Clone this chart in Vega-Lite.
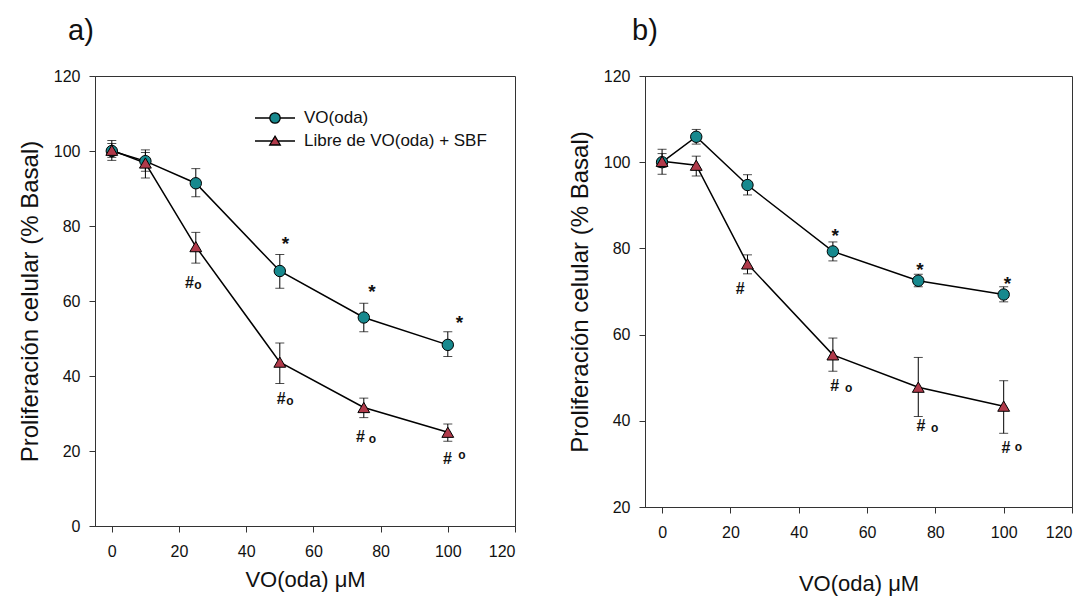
{
  "$schema": "https://vega.github.io/schema/vega-lite/v6.json",
  "padding": {"left": 17, "top": 16, "right": 5, "bottom": 2},
  "spacing": 51,
  "background": "white",
  "config": {
    "font": "Liberation Sans",
    "view": {"stroke": "#333", "strokeWidth": 1},
    "axis": {"domainColor": "#333", "tickColor": "#333", "labelColor": "#111", "titleColor": "#111", "labelFontSize": 16, "titleFontSize": 24, "titleFontWeight": "normal", "grid": false, "tickSize": 6, "labelPadding": 9, "labelFont": "Liberation Sans", "titleFont": "Liberation Sans"},
    "axisX": {"labelPadding": 11, "titleFontSize": 22},
    "legend": {"labelFontSize": 17, "labelLimit": 500, "labelColor": "#111", "labelFont": "Liberation Sans", "symbolStrokeColor": "black", "symbolStrokeWidth": 1.3, "symbolSize": 256, "labelOffset": 20, "padding": 0, "title": null, "orient": "none"},
    "title": {"fontSize": 29, "fontWeight": "normal", "anchor": "start", "frame": "group", "color": "#111", "font": "Liberation Sans"}
  },
  "datasets": {
    "a": [
      {"x": 0, "series": "VO(oda)", "y": 100.0, "lo": 97.5, "hi": 102.8},
      {"x": 10, "series": "VO(oda)", "y": 97.3, "lo": 94.6, "hi": 100.3},
      {"x": 25, "series": "VO(oda)", "y": 91.4, "lo": 87.8, "hi": 95.3},
      {"x": 50, "series": "VO(oda)", "y": 68.0, "lo": 63.4, "hi": 72.4},
      {"x": 75, "series": "VO(oda)", "y": 55.6, "lo": 51.8, "hi": 59.4},
      {"x": 100, "series": "VO(oda)", "y": 48.3, "lo": 45.2, "hi": 51.8},
      {"x": 0, "series": "Libre de VO(oda) + SBF", "y": 100.2, "lo": 98.3, "hi": 102.0},
      {"x": 10, "series": "Libre de VO(oda) + SBF", "y": 96.8, "lo": 92.8, "hi": 99.6},
      {"x": 25, "series": "Libre de VO(oda) + SBF", "y": 74.5, "lo": 70.1, "hi": 78.3},
      {"x": 50, "series": "Libre de VO(oda) + SBF", "y": 43.7, "lo": 38.0, "hi": 48.8},
      {"x": 75, "series": "Libre de VO(oda) + SBF", "y": 31.6, "lo": 28.9, "hi": 34.1},
      {"x": 100, "series": "Libre de VO(oda) + SBF", "y": 25.0, "lo": 22.6, "hi": 27.2}
    ],
    "a_ann": [
      {"x": 51.7, "y": 76.5, "t": "*"},
      {"x": 77.4, "y": 63.7, "t": "*"},
      {"x": 103.5, "y": 55.6, "t": "*"},
      {"x": 23.1, "y": 64.8, "t": "#"},
      {"x": 25.6, "y": 64.3, "t": "o"},
      {"x": 50.4, "y": 33.9, "t": "#"},
      {"x": 53.0, "y": 33.4, "t": "o"},
      {"x": 74.0, "y": 23.8, "t": "#"},
      {"x": 77.6, "y": 23.3, "t": "o"},
      {"x": 99.9, "y": 17.8, "t": "#"},
      {"x": 104.2, "y": 18.9, "t": "o"}
    ],
    "b": [
      {"x": 0, "series": "VO(oda)", "y": 100.0, "lo": 97.2, "hi": 103.0},
      {"x": 10, "series": "VO(oda)", "y": 105.9, "lo": 104.2, "hi": 107.6},
      {"x": 25, "series": "VO(oda)", "y": 94.7, "lo": 92.4, "hi": 97.1},
      {"x": 50, "series": "VO(oda)", "y": 79.3, "lo": 77.1, "hi": 81.5},
      {"x": 75, "series": "VO(oda)", "y": 72.5, "lo": 71.1, "hi": 74.0},
      {"x": 100, "series": "VO(oda)", "y": 69.3, "lo": 67.6, "hi": 71.1},
      {"x": 0, "series": "Libre de VO(oda) + SBF", "y": 100.2, "lo": 98.8, "hi": 102.0},
      {"x": 10, "series": "Libre de VO(oda) + SBF", "y": 99.3, "lo": 96.8, "hi": 101.4},
      {"x": 25, "series": "Libre de VO(oda) + SBF", "y": 76.4, "lo": 74.1, "hi": 78.5},
      {"x": 50, "series": "Libre de VO(oda) + SBF", "y": 55.3, "lo": 51.5, "hi": 59.2},
      {"x": 75, "series": "Libre de VO(oda) + SBF", "y": 47.8, "lo": 41.0, "hi": 54.7},
      {"x": 100, "series": "Libre de VO(oda) + SBF", "y": 43.4, "lo": 37.1, "hi": 49.3}
    ],
    "b_ann": [
      {"x": 50.7, "y": 84.1, "t": "*"},
      {"x": 75.5, "y": 76.2, "t": "*"},
      {"x": 101.1, "y": 72.9, "t": "*"},
      {"x": 22.9, "y": 70.6, "t": "#"},
      {"x": 50.5, "y": 48.0, "t": "#"},
      {"x": 54.6, "y": 47.6, "t": "o"},
      {"x": 75.8, "y": 38.7, "t": "#"},
      {"x": 79.8, "y": 38.3, "t": "o"},
      {"x": 100.7, "y": 33.7, "t": "#"},
      {"x": 104.3, "y": 34.0, "t": "o"}
    ]
  },
  "hconcat": [
    {
      "width": 420,
      "height": 450,
      "title": {"text": "a)", "dx": -27, "offset": 22},
      "encoding": {
        "x": {"field": "x", "type": "quantitative", "scale": {"domain": [-5, 120], "nice": false, "zero": false}, "axis": {"values": [0, 20, 40, 60, 80, 100, 120], "title": "VO(oda)  μM", "titlePadding": 10}},
        "y": {"field": "y", "type": "quantitative", "scale": {"domain": [0, 120], "nice": false}, "axis": {"values": [0, 20, 40, 60, 80, 100, 120], "title": "Proliferación celular (% Basal)", "titlePadding": 11}}
      },
      "layer": [
        {"data": {"name": "a"}, "mark": {"type": "line", "color": "black", "strokeWidth": 1.5}, "encoding": {"detail": {"field": "series"}}},
        {"data": {"name": "a"}, "mark": {"type": "rule", "color": "black", "strokeWidth": 1}, "encoding": {"y": {"field": "lo", "type": "quantitative"}, "y2": {"field": "hi"}}},
        {"data": {"name": "a"}, "mark": {"type": "tick", "orient": "horizontal", "color": "black", "size": 9, "thickness": 1}, "encoding": {"y": {"field": "lo", "type": "quantitative"}}},
        {"data": {"name": "a"}, "mark": {"type": "tick", "orient": "horizontal", "color": "black", "size": 9, "thickness": 1}, "encoding": {"y": {"field": "hi", "type": "quantitative"}}},
        {"data": {"name": "a"}, "transform": [{"filter": "datum.series === 'VO(oda)'"}], "mark": {"type": "point", "shape": "circle", "filled": true, "fill": "#17898e", "stroke": "black", "strokeWidth": 1, "size": 130, "opacity": 1}},
        {"data": {"name": "a"}, "transform": [{"filter": "datum.series !== 'VO(oda)'"}], "mark": {"type": "point", "shape": "triangle-up", "filled": true, "fill": "#b03a4a", "stroke": "black", "strokeWidth": 1, "size": 140, "opacity": 1}},
        {"data": {"name": "a"}, "transform": [{"filter": "false"}], "mark": {"type": "point", "filled": true, "opacity": 1},
          "encoding": {
            "color": {"field": "series", "type": "nominal", "scale": {"domain": ["VO(oda)", "Libre de VO(oda) + SBF"], "range": ["#17898e", "#b03a4a"]}, "legend": {"legendX": 171, "legendY": 33, "rowPadding": 6}},
            "shape": {"field": "series", "type": "nominal", "scale": {"domain": ["VO(oda)", "Libre de VO(oda) + SBF"], "range": ["M-2.5,0H-0.65M0.65,0H2.5M-0.65,0A0.65,0.65,0,1,1,0.65,0A0.65,0.65,0,1,1,-0.65,0Z", "M-2.5,0H-0.36M0.36,0H2.5M0,-0.6L0.66,0.5L-0.66,0.5Z"]}, "legend": {"legendX": 171, "legendY": 33, "rowPadding": 6}}
          }},
        {"data": {"name": "a_ann"}, "transform": [{"filter": "datum.t === '*'"}], "mark": {"type": "text", "fontSize": 19, "fontWeight": "bold", "color": "#111", "dy": 5, "baseline": "middle"}, "encoding": {"text": {"field": "t"}}},
        {"data": {"name": "a_ann"}, "transform": [{"filter": "datum.t === '#'"}], "mark": {"type": "text", "fontSize": 16, "fontWeight": "bold", "color": "#111", "baseline": "middle"}, "encoding": {"text": {"field": "t"}}},
        {"data": {"name": "a_ann"}, "transform": [{"filter": "datum.t === 'o'"}], "mark": {"type": "text", "fontSize": 12, "fontWeight": "bold", "color": "#111", "baseline": "middle"}, "encoding": {"text": {"field": "t"}}}
      ]
    },
    {
      "width": 427,
      "height": 431,
      "title": {"text": "b)", "dx": -13, "offset": 22},
      "encoding": {
        "x": {"field": "x", "type": "quantitative", "scale": {"domain": [-5, 120], "nice": false, "zero": false}, "axis": {"values": [0, 20, 40, 60, 80, 100, 120], "title": "VO(oda)  μM", "titlePadding": 33}},
        "y": {"field": "y", "type": "quantitative", "scale": {"domain": [20, 120], "nice": false, "zero": false}, "axis": {"values": [20, 40, 60, 80, 100, 120], "title": "Proliferación celular (% Basal)", "titlePadding": 11}}
      },
      "layer": [
        {"data": {"name": "b"}, "mark": {"type": "line", "color": "black", "strokeWidth": 1.5}, "encoding": {"detail": {"field": "series"}}},
        {"data": {"name": "b"}, "mark": {"type": "rule", "color": "black", "strokeWidth": 1}, "encoding": {"y": {"field": "lo", "type": "quantitative"}, "y2": {"field": "hi"}}},
        {"data": {"name": "b"}, "mark": {"type": "tick", "orient": "horizontal", "color": "black", "size": 9, "thickness": 1}, "encoding": {"y": {"field": "lo", "type": "quantitative"}}},
        {"data": {"name": "b"}, "mark": {"type": "tick", "orient": "horizontal", "color": "black", "size": 9, "thickness": 1}, "encoding": {"y": {"field": "hi", "type": "quantitative"}}},
        {"data": {"name": "b"}, "transform": [{"filter": "datum.series === 'VO(oda)'"}], "mark": {"type": "point", "shape": "circle", "filled": true, "fill": "#17898e", "stroke": "black", "strokeWidth": 1, "size": 130, "opacity": 1}},
        {"data": {"name": "b"}, "transform": [{"filter": "datum.series !== 'VO(oda)'"}], "mark": {"type": "point", "shape": "triangle-up", "filled": true, "fill": "#b03a4a", "stroke": "black", "strokeWidth": 1, "size": 140, "opacity": 1}},
        {"data": {"name": "b"}, "transform": [{"filter": "false"}], "mark": {"type": "point", "filled": true, "opacity": 1},
          "encoding": {
            "color": {"field": "series", "type": "nominal", "scale": {"domain": ["VO(oda)", "Libre de VO(oda) + SBF"], "range": ["#17898e", "#b03a4a"]}, "legend": {"legendX": 179, "legendY": 27, "rowPadding": 5}},
            "shape": {"field": "series", "type": "nominal", "scale": {"domain": ["VO(oda)", "Libre de VO(oda) + SBF"], "range": ["M-2.5,0H-0.65M0.65,0H2.5M-0.65,0A0.65,0.65,0,1,1,0.65,0A0.65,0.65,0,1,1,-0.65,0Z", "M-2.5,0H-0.36M0.36,0H2.5M0,-0.6L0.66,0.5L-0.66,0.5Z"]}, "legend": {"legendX": 179, "legendY": 27, "rowPadding": 5}}
          }},
        {"data": {"name": "b_ann"}, "transform": [{"filter": "datum.t === '*'"}], "mark": {"type": "text", "fontSize": 19, "fontWeight": "bold", "color": "#111", "dy": 5, "baseline": "middle"}, "encoding": {"text": {"field": "t"}}},
        {"data": {"name": "b_ann"}, "transform": [{"filter": "datum.t === '#'"}], "mark": {"type": "text", "fontSize": 16, "fontWeight": "bold", "color": "#111", "baseline": "middle"}, "encoding": {"text": {"field": "t"}}},
        {"data": {"name": "b_ann"}, "transform": [{"filter": "datum.t === 'o'"}], "mark": {"type": "text", "fontSize": 12, "fontWeight": "bold", "color": "#111", "baseline": "middle"}, "encoding": {"text": {"field": "t"}}}
      ]
    }
  ]
}
